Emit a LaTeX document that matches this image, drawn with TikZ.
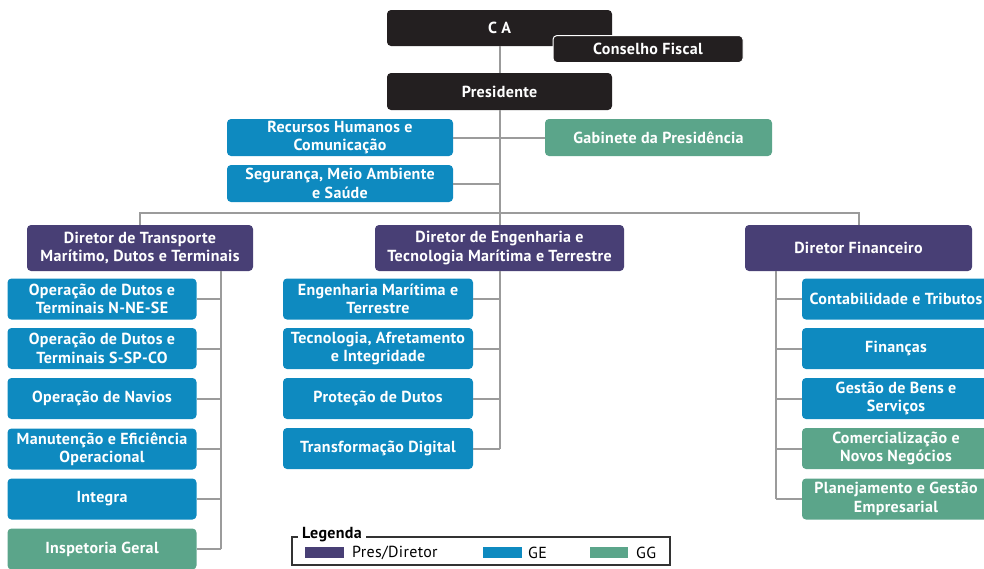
\documentclass[tikz,border=0pt]{standalone}
\usepackage{fontspec}
\setmainfont{PT Sans}[LetterSpace=2]
\definecolor{cablack}{HTML}{231F20}
\definecolor{dirpurple}{HTML}{483F75}
\definecolor{geblue}{HTML}{0E8AC0}
\definecolor{gggreen}{HTML}{5BA58A}
\definecolor{linegray}{HTML}{9B9B9B}
\definecolor{legline}{HTML}{333333}
\begin{document}
\begin{tikzpicture}[x=1pt,y=-1pt,
  box/.style={rounded corners=4pt, text=white, font=\bfseries\fontsize{16}{18.5}\selectfont, align=center, inner sep=0pt},
  blk/.style={box, fill=cablack},
  pur/.style={box, fill=dirpurple},
  ge/.style={box, fill=geblue, minimum height=41pt},
  gg/.style={box, fill=gggreen, minimum height=41pt},
  conn/.style={draw=linegray, line width=2pt},
  legtext/.style={font=\fontsize{16}{16}\selectfont, text=black, inner sep=0pt, anchor=west}
]
\useasboundingbox (0,0) rectangle (984,568);

% top
\node[blk, minimum width=225pt, minimum height=36pt] (ca) at (499.5,28) {C A};
\node[blk, minimum width=190pt, minimum height=27pt, draw=white, line width=1pt] (cf) at (648,49) {Conselho Fiscal};
\node[blk, minimum width=225pt, minimum height=37pt] (pres) at (499.5,91.5) {Presidente};
\node[ge, minimum width=226pt, minimum height=37pt] (rh) at (340,137.5) {Recursos Humanos e\\Comunicação};
\node[gg, minimum width=227pt, minimum height=37pt] (gab) at (658.5,137.5) {Gabinete da Presidência};
\node[ge, minimum width=226pt, minimum height=37pt] (seg) at (340,183.5) {Segurança, Meio Ambiente\\e Saúde};

% directors
\node[pur, minimum width=226pt, minimum height=46pt] (dt) at (140,248) {Diretor de Transporte\\Marítimo, Dutos e Terminais};
\node[pur, minimum width=249pt, minimum height=46pt] (de) at (499.5,248) {Diretor de Engenharia e\\Tecnologia Marítima e Terrestre};
\node[pur, minimum width=227pt, minimum height=46pt] (df) at (858.5,248) {Diretor Financeiro};

% left column
\node[ge, minimum width=189pt] (l1) at (102,299) {Operação de Dutos e\\Terminais N-NE-SE};
\node[ge, minimum width=189pt] (l2) at (102,348.5) {Operação de Dutos e\\Terminais S-SP-CO};
\node[ge, minimum width=189pt] (l3) at (102,398.5) {Operação de Navios};
\node[ge, minimum width=189pt] (l4) at (102,449) {Manutenção e Eficiência\\Operacional};
\node[ge, minimum width=189pt] (l5) at (102,499) {Integra};
\node[gg, minimum width=189pt] (l6) at (102,549) {Inspetoria Geral};

% middle column
\node[ge, minimum width=190pt] (m1) at (378,299) {Engenharia Marítima e\\Terrestre};
\node[ge, minimum width=190pt] (m2) at (378,348.5) {Tecnologia, Afretamento\\e Integridade};
\node[ge, minimum width=190pt] (m3) at (378,398.5) {Proteção de Dutos};
\node[ge, minimum width=190pt] (m4) at (378,448.5) {Transformação Digital};

% right column
\node[ge, minimum width=188pt] (r1) at (896,299) {Contabilidade e Tributos};
\node[ge, minimum width=188pt] (r2) at (896,348.5) {Finanças};
\node[ge, minimum width=188pt] (r3) at (896,398.5) {Gestão de Bens e\\Serviços};
\node[gg, minimum width=188pt] (r4) at (896,448.5) {Comercialização e\\Novos Negócios};
\node[gg, minimum width=188pt] (r5) at (896,499) {Planejamento e Gestão\\Empresarial};

% connectors
\coordinate (bus) at (499.5,213);
\coordinate (ltr) at (221,0);
\coordinate (mtr) at (500,0);
\coordinate (rtr) at (776,0);
\draw[conn] (ca.south) -- (pres.north);
\draw[conn] (pres.south) -- (de.north);
\draw[conn] (rh.east) -- (rh.east -| pres.south);
\draw[conn] (seg.east) -- (seg.east -| pres.south);
\draw[conn] (gab.west) -- (gab.west -| pres.south);
\draw[conn] (dt.north) |- (bus) -| (df.north);
\draw[conn] (ltr |- dt.south) -- (ltr |- l6.east);
\foreach \n in {l1,l2,l3,l4,l5,l6} \draw[conn] (\n.east) -- (\n.east -| ltr);
\draw[conn] (mtr |- de.south) -- (mtr |- m4.east);
\foreach \n in {m1,m2,m3,m4} \draw[conn] (\n.east) -- (\n.east -| mtr);
\draw[conn] (rtr |- df.south) -- (rtr |- r5.west);
\foreach \n in {r1,r2,r3,r4,r5} \draw[conn] (\n.west) -- (\n.west -| rtr);

% legend
\node[font=\bfseries\fontsize{16}{16}\selectfont, inner sep=0pt, anchor=base west] (leg) at (302,538) {Legenda};
\draw[legline, line width=1.2pt] (leg.west |- 0,537) ++(-4,0) -- (292,537) -- (292,565) -- (670,565) -- (670,537) -- ([xshift=4pt]leg.east |- 0,537);
\fill[dirpurple] (305,547) rectangle (344,558);
\fill[geblue] (483,547) rectangle (522,558);
\fill[gggreen] (590,547) rectangle (628,558);
\node[legtext] (lp) at (352,552.5) {Pres/Diretor};
\node[legtext] (lge) at (528,552.5) {GE};
\node[legtext] (lgg) at (636,552.5) {GG};
\end{tikzpicture}
\end{document}
